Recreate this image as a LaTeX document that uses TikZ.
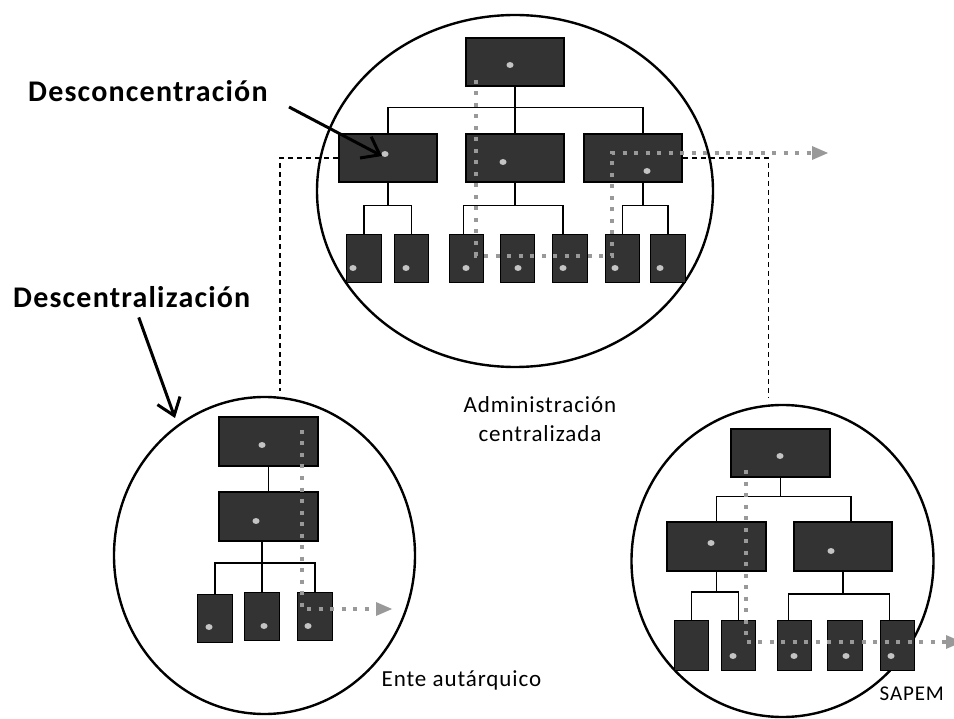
\documentclass[tikz,border=0pt]{standalone}
\usepackage{fontspec}
\setmainfont{Carlito}
\newfontfamily\spacedfont[LetterSpace=4]{Carlito}
\usetikzlibrary{arrows.meta,shapes.geometric,calc}
\definecolor{boxgray}{HTML}{333333}
\definecolor{pipgray}{HTML}{C4C4C4}
\definecolor{flowgray}{HTML}{999999}

\begin{document}
\begin{tikzpicture}[x=1pt,y=-1pt,
        ring/.style={draw, ellipse, line width=2.4pt, inner sep=0pt},
        bigbox/.style={draw, fill=boxgray, line width=2.4pt, minimum width=98.5pt, minimum height=48.5pt, inner sep=0pt},
        smallbox/.style={draw, fill=boxgray, line width=1.4pt, minimum width=34.5pt, minimum height=47.5pt, inner sep=0pt},
        tie/.style={line width=1.3pt},
        pip/.style={fill=pipgray},
        link/.style={line width=1.2pt, dash pattern=on 5pt off 4pt},
        flow/.style={draw=flowgray, line width=4pt, dash pattern=on 4pt off 7.5pt, -{Triangle[length=16pt, width=14pt, line width=0pt, fill=flowgray]}},
        pointer/.style={line width=3pt, -{Straight Barb[length=16pt, width=24pt]}},
        bold/.style={font=\spacedfont\bfseries\fontsize{30}{34}\selectfont, inner sep=0pt},
        caption/.style={font=\spacedfont\fontsize{23}{29}\selectfont, inner sep=0pt}]
    \useasboundingbox (0,0) rectangle (954,719);

    \node[ring, minimum width=396, minimum height=352] (tcirc) at (515,191) {};
    \node[ring, minimum width=301, minimum height=317] (lcirc) at (264.5,555.5) {};
    \node[ring, minimum width=302, minimum height=312] (rcirc) at (782.5,561) {};

    \node[bigbox] (ta) at (515,62) {};
    \node[bigbox] (m1) at (388,158) {};
    \node[bigbox] (m2) at (515,158) {};
    \node[bigbox] (m3) at (633,158) {};
    \foreach \x [count=\i] in {364,411.5,466.5,517.5,570,622.5,668}
        \node[smallbox] (b\i) at (\x,258.5) {};

    \node[bigbox] (la) at (268.5,441.5) {};
    \node[bigbox] (lb) at (268.5,516.5) {};
    \node[smallbox] (lc1) at (215,618.5) {};
    \node[smallbox] (lc2) at (262,616.5) {};
    \node[smallbox] (lc3) at (315,616.5) {};

    \node[bigbox] (ra) at (780.5,453) {};
    \node[bigbox] (rb1) at (716.5,546.5) {};
    \node[bigbox] (rb2) at (843,546.5) {};
    \foreach \x [count=\i] in {691.5,738.5,794.5,845,897.5}
        \node[smallbox, minimum height=49.5pt] (rc\i) at (\x,645.5) {};

    \draw[tie] (ta) -- (m2);
    \draw[tie] (m1.north) |- ($(ta.south)+(0,20)$) -| ($(m3.north)+(10,0)$);
    \draw[tie] (m1.south) -- ++(0,22);
    \draw[tie] (b1.north) |- ($(m1.south)+(0,22)$) -| (b2.north);
    \draw[tie] (m2.south) -- ++(0,22);
    \draw[tie] ($(b3.north)+(-3,0)$) |- ($(m2.south)+(0,22)$) -| ($(b5.north)+(-7,0)$);
    \draw[tie] ($(m3.south)+(10,0)$) -- ++(0,22);
    \draw[tie] (b6.north) |- ($(m3.south)+(10,22)$) -| (b7.north);

    \draw[tie] (la) -- (lb);
    \draw[tie] (lb.south -| lc2.north) -- (lc2.north);
    \draw[tie] (lc1.north) |- ($(lb.south)+(0,21)$) -| (lc3.north);

    \draw[tie] (ra.south) -- ++(0,18);
    \draw[tie] (rb1.north) |- ($(ra.south)+(0,18)$) -| ($(rb2.north)+(8,0)$);
    \draw[tie] (rb1.south) -- ++(0,20);
    \draw[tie] (rc1.north) |- ($(rb1.south)+(0,20)$) -| (rc2.north);
    \draw[tie] (rb2.south) -- ++(0,22);
    \draw[tie] ($(rc3.north)+(-6,0)$) |- ($(rb2.south)+(0,22)$) -| ($(rc5.north)+(-8,0)$);

    \foreach \x/\y in {510/65, 385/154, 503/162, 647/171, 353/268, 406/268, 466/268, 518/268, 563/268, 615/268, 660/268,
                       262/445, 256/521, 209/627, 264/626, 308/626,
                       780/456, 711/543, 831/551, 733/656, 794/656, 846/656, 891/656}
        \fill[pip] (\x,\y) ellipse [x radius=3.5pt, y radius=3pt];

    \draw[link] (m1.west) -| ($(lcirc.north)+(15.5,-5)$);
    \draw[link] (m3.east) -| ($(rcirc.north)+(-14,-6)$);

    \coordinate (tfa) at (476,80);
    \coordinate (tfb) at (612,256);
    \coordinate (tfc) at (828,153);
    \coordinate (lfa) at (302,430);
    \coordinate (lfb) at (392,609);
    \coordinate (rfa) at (746,470);
    \coordinate (rfb) at (962,642);
    \draw[flow] (tfa) |- (tfb) |- (tfc);
    \draw[flow] (lfa) |- (lfb);
    \draw[flow] (rfa) |- (rfb);

    \node[bold, anchor=base west] (desc) at (28,101.5) {Desconcentración};
    \node[bold, anchor=base west] (desz) at (13,308) {Descentralización};
    \coordinate (dca) at (289,107);
    \coordinate (dzb) at (175,418);
    \draw[pointer] (dca) -- ($(m1.center)+(-6,-2)$);
    \draw[pointer] ($(desz.south)+(7,9)$) -- (dzb);

    \node[caption, align=center] (admin) at (540,419) {Administración\\centralizada};
    \node[caption, anchor=base west] (ente) at (381.5,686.5) {Ente autárquico};
    \node[caption, anchor=base east, font=\spacedfont\fontsize{21}{25}\selectfont] (sapem) at (944,700.5) {SAPEM};
\end{tikzpicture}
\end{document}
